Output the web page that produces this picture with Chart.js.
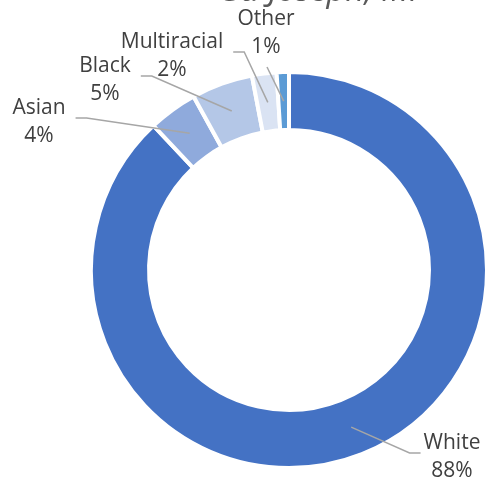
<!DOCTYPE html>
<html>
<head>
<meta charset="utf-8">
<script src="https://cdn.jsdelivr.net/npm/chart.js@4/dist/chart.umd.min.js"></script>
<style>
  html, body { margin: 0; padding: 0; background: #ffffff; overflow: hidden; }
  #wrap { position: relative; width: 489px; height: 485px; }
</style>
</head>
<body>
<div id="wrap"><canvas id="c" width="489" height="485"></canvas></div>
<script>
// Population by race, St. Joseph, MI (percent of residents)
const categories = ['White', 'Asian', 'Black', 'Multiracial', 'Other'];
const shares = [88, 4, 5, 2, 1];
const chartTitle = 'St. Joseph, MI';

// Slice fills, one per category
const sliceColors = ['#4472C4', '#8FAADC', '#B4C7E7', '#DAE3F3', '#5B9BD5'];

// Where each callout sits, relative to the ring centre:
// dx = label centre, dy = first baseline, side = where the leader leaves the label
const calloutPlacement = [
  { dx: 163,  dy: 179,  side: 'left'  },
  { dx: -250, dy: -156, side: 'right' },
  { dx: -184, dy: -198, side: 'right' },
  { dx: -117, dy: -222, side: 'right' },
  { dx: -23,  dy: -245, side: 'below' }
];

const FONT = '"Open Sans", "DejaVu Sans", sans-serif';

// Draws the category/percent callouts with leader lines, and the heading
const calloutPlugin = {
  id: 'callouts',
  afterDatasetsDraw(chart, args, opts) {
    const ctx = chart.ctx;
    const meta = chart.getDatasetMeta(0);
    ctx.save();
    ctx.font = opts.fontSize + 'px ' + FONT;
    ctx.textAlign = 'center';
    ctx.textBaseline = 'alphabetic';
    meta.data.forEach((arc, i) => {
      const p = opts.placement[i];
      const a = arc.getProps(['x', 'y', 'startAngle', 'endAngle', 'innerRadius', 'outerRadius'], true);
      const mid = (a.startAngle + a.endAngle) / 2;
      const r = (a.innerRadius + a.outerRadius) / 2;
      const ax = a.x + Math.cos(mid) * r;
      const ay = a.y + Math.sin(mid) * r;
      const lx = a.x + p.dx;
      const ly = a.y + p.dy;
      const lines = [categories[i], shares[i] + '%'];
      const w = ctx.measureText(lines[0]).width;

      let pts;
      if (p.side === 'right') {
        const ex = lx + w / 2 + 10;
        pts = [[ex, ly + 4], [ex + 11, ly + 4], [ax, ay]];
      } else if (p.side === 'left') {
        const ex = lx - w / 2 - 3;
        pts = [[ex, ly + 4], [ex - 11, ly + 4], [ax, ay]];
      } else {
        pts = [[lx + 1, ly + opts.lineHeight + 14], [ax, ay]];
      }
      ctx.beginPath();
      ctx.moveTo(pts[0][0], pts[0][1]);
      for (let k = 1; k < pts.length; k++) ctx.lineTo(pts[k][0], pts[k][1]);
      ctx.strokeStyle = opts.leaderColor;
      ctx.lineWidth = 1.5;
      ctx.stroke();

      ctx.fillStyle = opts.textColor;
      lines.forEach((t, k) => ctx.fillText(t, lx, ly + k * opts.lineHeight));
    });

    // heading, partly above the top edge
    ctx.font = 'italic ' + opts.titleSize + 'px ' + FONT;
    ctx.fillStyle = opts.titleColor;
    ctx.textAlign = 'center';
    ctx.fillText(chartTitle, opts.titleX, opts.titleY);
    ctx.restore();
  }
};

new Chart(document.getElementById('c'), {
  type: 'doughnut',
  data: {
    labels: categories,
    datasets: [{
      data: shares,
      backgroundColor: sliceColors,
      borderColor: '#ffffff',
      borderWidth: 4
    }]
  },
  options: {
    responsive: false,
    animation: false,
    events: [],
    cutout: '70.7%',
    rotation: 0,
    layout: { padding: { left: 89, right: 0, top: 70, bottom: 15 } },
    plugins: {
      legend: { display: false },
      tooltip: { enabled: false },
      title: { display: false },
      callouts: {
        placement: calloutPlacement,
        fontSize: 21,
        lineHeight: 28,
        textColor: '#404040',
        leaderColor: '#A6A6A6',
        titleSize: 33,
        titleColor: '#595959',
        titleX: 321,
        titleY: 1
      }
    }
  },
  plugins: [calloutPlugin]
});
</script>
</body>
</html>
